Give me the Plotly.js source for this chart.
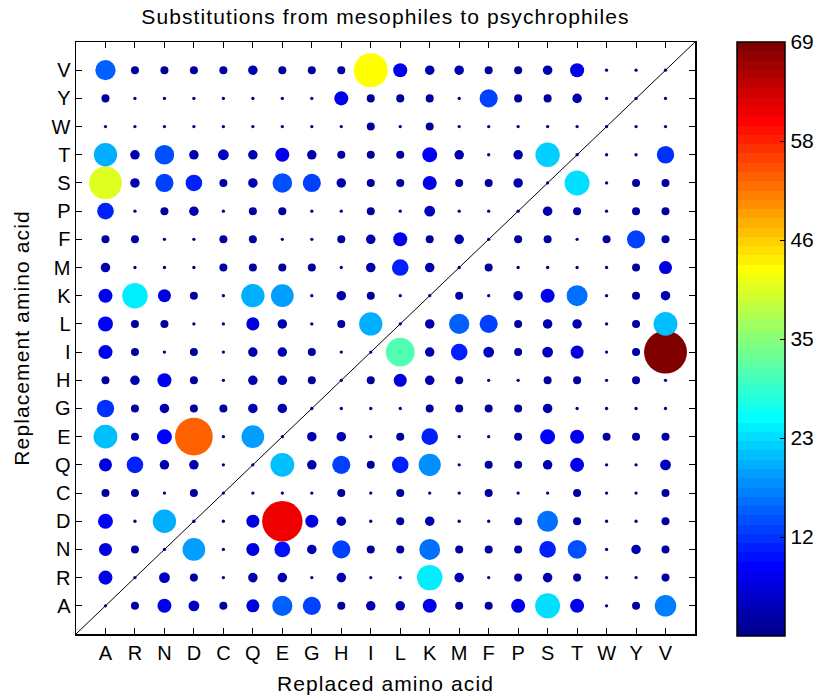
<!DOCTYPE html>
<html>
<head>
<meta charset="utf-8">
<script src="https://cdn.plot.ly/plotly-3.0.1.min.js"></script>
<style>
  html, body { margin: 0; padding: 0; background: #fff; }
  #chart { width: 822px; height: 700px; }
  .gtitle, .xtitle, .ytitle { letter-spacing: 1.1px !important; }
</style>
</head>
<body>
<div id="chart"></div>
<script>
// Amino acid order used for both axes
const aminoAcids = ['A','R','N','D','C','Q','E','G','H','I','L','K','M','F','P','S','T','W','Y','V'];

// Each array: one replacement amino acid (y), values per replaced amino acid (x) in aminoAcids order
const repA = [0,2,7,4,2,6,15,12,2,3,3,7,2,2,7,23,7,0,2,17];
const repR = [7,0,4,2,0,3,3,0,3,0,0,24,3,0,2,3,2,0,0,2];
const repN = [6,2,0,19,0,6,9,3,12,2,2,16,2,2,2,10,13,0,3,2];
const repD = [8,0,20,0,0,6,61,6,3,0,2,3,0,0,2,16,2,0,0,2];
const repC = [2,2,0,2,0,0,0,0,2,0,2,0,0,2,0,0,2,0,0,2];
const repQ = [6,10,3,3,0,0,21,3,12,2,10,18,0,2,2,3,7,0,0,4];
const repE = [21,2,8,53,0,19,0,3,3,0,2,10,0,0,2,8,7,2,2,2];
const repG = [11,2,3,2,2,3,3,0,0,0,0,2,2,2,2,3,0,0,0,0];
const repH = [2,3,7,2,0,3,3,2,0,2,6,3,2,0,0,2,2,0,2,0];
const repI = [7,2,0,2,0,3,3,2,0,0,31,3,10,4,2,4,6,0,2,69];
const repL = [8,2,2,0,0,6,3,0,2,20,0,3,15,12,2,3,3,0,2,21];
const repK = [7,24,6,2,0,20,19,0,3,2,0,0,2,0,3,7,16,0,2,3];
const repM = [3,0,0,0,2,2,2,2,0,3,10,3,0,2,0,0,0,0,2,6];
const repF = [2,2,0,0,2,2,0,0,2,3,7,2,3,0,2,2,0,2,12,2];
const repP = [10,0,2,3,0,2,2,0,0,2,0,4,0,0,0,3,2,0,2,2];
const repS = [40,3,12,10,2,3,14,12,3,2,2,7,2,2,3,0,23,0,2,2];
const repT = [20,3,14,3,4,3,7,3,2,2,2,8,3,0,3,22,0,0,0,11];
const repW = [0,0,0,0,0,0,0,0,0,2,0,2,0,0,0,0,0,0,0,0];
const repY = [2,0,0,0,0,0,0,0,7,2,2,2,0,12,2,2,3,0,0,0];
const repV = [15,2,2,2,2,3,2,2,2,43,7,3,3,2,2,3,7,0,0,0];

const colorTickVals = [11.5, 23, 34.5, 46, 57.5, 69];
const colorTickText = ['12','23','35','46','58','69'];

const rows = [repA,repR,repN,repD,repC,repQ,repE,repG,repH,repI,repL,repK,repM,repF,repP,repS,repT,repW,repY,repV];

// MATLAB-style 64-level jet colormap, stepped
function jet64() {
  const m = 64, n = 16;
  const u = [];
  for (let k = 1; k <= n; k++) u.push(k / n);
  for (let k = 0; k < n - 1; k++) u.push(1);
  for (let k = n; k >= 1; k--) u.push(k / n);
  const J = [];
  for (let i = 0; i < m; i++) J.push([0, 0, 0]);
  const g0 = Math.ceil(n / 2);
  for (let i = 1; i <= u.length; i++) {
    const g = g0 + i, r = g + n;
    if (g <= m) J[g - 1][1] = u[i - 1];
    if (r <= m) J[r - 1][0] = u[i - 1];
  }
  const bs = [];
  for (let i = 1; i <= u.length; i++) { const b = g0 + i - n; if (b >= 1) bs.push(b); }
  const off = u.length - bs.length;
  bs.forEach((b, k) => { J[b - 1][2] = u[off + k]; });
  const cs = [];
  J.forEach((c, i) => {
    const col = 'rgb(' + Math.round(c[0]*255) + ',' + Math.round(c[1]*255) + ',' + Math.round(c[2]*255) + ')';
    cs.push([i / m, col]);
    cs.push([(i + 1) / m, col]);
  });
  return cs;
}

const xs = [], ys = [], vals = [], sizes = [];
rows.forEach((row, ri) => {
  row.forEach((v, ci) => {
    xs.push(ci + 1);
    ys.push(ri + 1);
    vals.push(v);
    sizes.push(Math.sqrt(11 + 26.6 * v));
  });
});

const fontFam = 'Liberation Sans, Arial, sans-serif';
const tickIdx = aminoAcids.map((_, i) => i + 1);

const trace = {
  type: 'scatter',
  mode: 'markers',
  x: xs,
  y: ys,
  hoverinfo: 'skip',
  marker: {
    size: sizes,
    sizemode: 'diameter',
    color: vals,
    cmin: 0,
    cmax: 69,
    colorscale: jet64(),
    line: { width: 0 },
    opacity: 1,
    showscale: true,
    colorbar: {
      xref: 'container',
      yref: 'paper',
      x: 737 / 822,
      xanchor: 'left',
      y: 0.4983,
      yanchor: 'middle',
      len: 1.0034,
      lenmode: 'fraction',
      thickness: 48,
      xpad: 0,
      ypad: 0,
      outlinewidth: 1.5,
      outlinecolor: '#000',
      tickmode: 'array',
      tickvals: colorTickVals,
      ticktext: colorTickText,
      ticks: 'inside',
      ticklen: 5,
      tickcolor: '#000',
      tickfont: { family: fontFam, size: 21, color: '#000' }
    }
  }
};

const layout = {
  width: 822,
  height: 700,
  margin: { l: 76, r: 127, t: 42, b: 66 },
  paper_bgcolor: '#fff',
  plot_bgcolor: '#fff',
  showlegend: false,
  font: { family: fontFam, color: '#000' },
  title: {
    text: 'Substitutions from mesophiles to psychrophiles',
    font: { family: fontFam, size: 21, color: '#000' },
    x: 0.5, xref: 'paper', xanchor: 'center',
    y: 0.976, yref: 'container', yanchor: 'middle'
  },
  xaxis: {
    range: [0, 21],
    tickmode: 'array',
    tickvals: tickIdx,
    ticktext: aminoAcids,
    ticks: 'inside',
    ticklen: 6,
    tickwidth: 1,
    tickcolor: '#000',
    showline: true,
    linewidth: 1.5,
    linecolor: '#000',
    mirror: 'ticks',
    showgrid: false,
    zeroline: false,
    fixedrange: true,
    automargin: false,
    tickfont: { family: fontFam, size: 20, color: '#000' },
    title: { text: 'Replaced amino acid', font: { family: fontFam, size: 21, color: '#000' }, standoff: 14 }
  },
  yaxis: {
    range: [0, 21],
    tickmode: 'array',
    tickvals: tickIdx,
    ticktext: aminoAcids,
    ticks: 'inside',
    ticklen: 6,
    tickwidth: 1,
    tickcolor: '#000',
    showline: true,
    linewidth: 1.5,
    linecolor: '#000',
    mirror: 'ticks',
    showgrid: false,
    zeroline: false,
    fixedrange: true,
    automargin: false,
    tickfont: { family: fontFam, size: 20, color: '#000' },
    title: { text: 'Replacement amino acid', font: { family: fontFam, size: 21, color: '#000' }, standoff: 16 }
  },
  shapes: [{
    type: 'line', xref: 'x', yref: 'y',
    x0: 0, y0: 0, x1: 21, y1: 21,
    line: { color: '#000', width: 1 },
    layer: 'below'
  }]
};

Plotly.newPlot('chart', [trace], layout, { displayModeBar: false, staticPlot: true });
</script>
</body>
</html>
